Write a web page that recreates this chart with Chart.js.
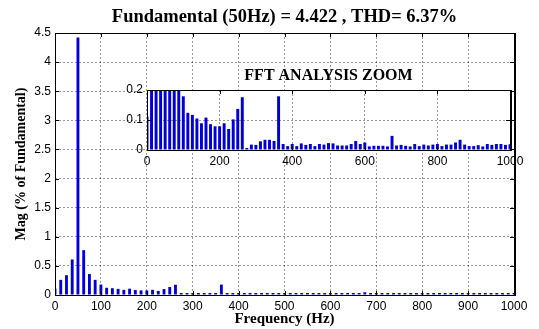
<!DOCTYPE html>
<html>
<head>
<meta charset="utf-8">
<script src="https://cdn.jsdelivr.net/npm/chart.js@4/dist/chart.umd.min.js"></script>
<style>
  body { margin: 0; background: #fff; }
  #wrap { position: relative; width: 539px; height: 329px; }
  #mainChart { position: absolute; left: 0; top: 0; }
  #zoomChart { position: absolute; left: 100px; top: 60px; }
</style>
</head>
<body>
<div id="wrap">
  <canvas id="mainChart" width="539" height="329"></canvas>
  <canvas id="zoomChart" width="439" height="115"></canvas>
</div>
<script>
// harmonic frequencies (Hz)
var freqs = [0, 12.5, 25, 37.5, 50, 62.5, 75, 87.5, 100, 112.5, 125, 137.5, 150, 162.5, 175, 187.5, 200,
  212.5, 225, 237.5, 250, 262.5, 275, 287.5, 300, 312.5, 325, 337.5, 350, 362.5, 375, 387.5, 400,
  412.5, 425, 437.5, 450, 462.5, 475, 487.5, 500, 512.5, 525, 537.5, 550, 562.5, 575, 587.5, 600,
  612.5, 625, 637.5, 650, 662.5, 675, 687.5, 700, 712.5, 725, 737.5, 750, 762.5, 775, 787.5, 800,
  812.5, 825, 837.5, 850, 862.5, 875, 887.5, 900, 912.5, 925, 937.5, 950, 962.5, 975, 987.5, 1000];
// magnitude (% of fundamental)
var mags = [0.112, 0.26, 0.34, 0.61, 4.422, 0.77, 0.36, 0.26, 0.179, 0.124, 0.117, 0.105, 0.089, 0.108, 0.086, 0.079, 0.079,
  0.089, 0.07, 0.102, 0.137, 0.176, 0.004, 0.018, 0.017, 0.029, 0.034, 0.034, 0.03, 0.179, 0.02, 0.013, 0.02,
  0.013, 0.022, 0.017, 0.02, 0.013, 0.02, 0.018, 0.023, 0.022, 0.015, 0.015, 0.015, 0.02, 0.03, 0.02, 0.025,
  0.012, 0.014, 0.014, 0.014, 0.012, 0.047, 0.015, 0.017, 0.014, 0.012, 0.02, 0.013, 0.018, 0.015, 0.018, 0.02,
  0.013, 0.018, 0.018, 0.025, 0.034, 0.018, 0.013, 0.013, 0.016, 0.012, 0.02, 0.017, 0.02, 0.02, 0.017, 0.019];
var yTicksMain = [0, 0.5, 1, 1.5, 2, 2.5, 3, 3.5, 4, 4.5];
var xTicksMain = [0, 100, 200, 300, 400, 500, 600, 700, 800, 900, 1000];
var yTicksZoom = [0, 0.1, 0.2];
var xTicksZoom = [0, 200, 400, 600, 800, 1000];

var barColor = 'rgb(0,0,215)';
var gridColor = 'rgba(0,0,0,0.4)';
var serif = "'Liberation Serif', 'Times New Roman', serif";
var sans = "'Liberation Sans', Arial, sans-serif";

// matlab-like box + inward ticks, white background for the zoom axes
var boxPlugin = {
  id: 'box',
  beforeDraw: function(chart, args, opts){
    if(!opts.fill) return;
    var a = chart.chartArea, c = chart.ctx;
    c.save();
    c.fillStyle = '#fff';
    c.fillRect(a.left, a.top, a.right - a.left, a.bottom - a.top);
    c.restore();
  },
  afterDraw: function(chart){
    var a = chart.chartArea, c = chart.ctx;
    var xs = chart.scales.x, ys = chart.scales.y;
    c.save();
    c.strokeStyle = '#000';
    c.lineWidth = 1;
    c.beginPath();
    xs.ticks.forEach(function(t){
      var px = Math.round(xs.getPixelForValue(t.value)) + 0.5;
      c.moveTo(px, a.bottom); c.lineTo(px, a.bottom - 4);
      c.moveTo(px, a.top); c.lineTo(px, a.top + 4);
    });
    ys.ticks.forEach(function(t){
      var py = Math.round(ys.getPixelForValue(t.value)) + 0.5;
      c.moveTo(a.left, py); c.lineTo(a.left + 4, py);
      c.moveTo(a.right, py); c.lineTo(a.right - 4, py);
    });
    c.stroke();
    c.strokeRect(Math.round(a.left) + 0.5, Math.round(a.top) + 0.5, Math.round(a.right - a.left), Math.round(a.bottom - a.top));
    c.lineWidth = 2;
    c.beginPath();
    c.moveTo(Math.round(a.right) + 1, a.top);
    c.lineTo(Math.round(a.right) + 1, a.bottom + 1);
    c.stroke();
    c.restore();
  }
};

function plainLabel(v){ return String(v); }

function makeScales(xMin, xMax, yMax, xTicks, yTicks, xTitle, yTitle, xH, yW){
  return {
    x: {
      type: 'linear', min: xMin, max: xMax, offset: false,
      afterBuildTicks: function(s){ s.ticks = xTicks.map(function(v){ return {value: v}; }); },
      grid: { color: gridColor, drawTicks: false, offset: false },
      border: { display: false, dash: [2, 2] },
      ticks: { color: '#000', font: { family: sans, size: 12 }, padding: 4, maxRotation: 0, autoSkip: false, callback: plainLabel },
      title: xTitle,
      afterFit: function(s){ s.height = xH; }
    },
    y: {
      min: 0, max: yMax,
      afterBuildTicks: function(s){ s.ticks = yTicks.map(function(v){ return {value: v}; }); },
      grid: { color: gridColor, drawTicks: false },
      border: { display: false, dash: [2, 2] },
      ticks: { color: '#000', font: { family: sans, size: 12 }, padding: 4, autoSkip: false, callback: plainLabel },
      title: yTitle,
      afterFit: function(s){ s.width = yW; }
    }
  };
}

var mainChart = new Chart(document.getElementById('mainChart').getContext('2d'), {
  type: 'bar',
  data: {
    labels: freqs,
    datasets: [{ data: mags, backgroundColor: barColor, categoryPercentage: 1, barPercentage: 0.5, minBarLength: 2 }]
  },
  options: {
    responsive: false,
    animation: false,
    layout: { padding: { left: 0, right: 25, top: 0, bottom: 0 } },
    plugins: {
      legend: { display: false },
      tooltip: { enabled: false },
      title: {
        display: true,
        fullSize: false,
        text: 'Fundamental (50Hz) = 4.422 , THD= 6.37%',
        color: '#000',
        font: { family: serif, size: 18.5, weight: 'bold' },
        padding: { top: 6, bottom: 4.8 }
      },
      box: { fill: false }
    },
    scales: makeScales(0, 1000, 4.5, xTicksMain, yTicksMain,
      { display: true, text: 'Frequency (Hz)', color: '#000', font: { family: serif, size: 15, weight: 'bold' }, padding: { top: 0, bottom: 1 } },
      { display: true, text: 'Mag (% of Fundamental)', color: '#000', font: { family: serif, size: 14, weight: 'bold' }, padding: { top: 13, bottom: 0 } },
      34, 55)
  },
  plugins: [boxPlugin]
});

var zoomChart = new Chart(document.getElementById('zoomChart').getContext('2d'), {
  type: 'bar',
  data: {
    labels: freqs,
    datasets: [{ data: mags, backgroundColor: barColor, categoryPercentage: 1, barPercentage: 0.65, minBarLength: 2 }]
  },
  options: {
    responsive: false,
    animation: false,
    layout: { padding: { left: 0, right: 29, top: 0, bottom: 0 } },
    plugins: {
      legend: { display: false },
      tooltip: { enabled: false },
      title: {
        display: true,
        fullSize: false,
        text: 'FFT ANALYSIS ZOOM',
        color: '#000',
        font: { family: serif, size: 16, weight: 'bold' },
        padding: { top: 6, bottom: 4.8 }
      },
      box: { fill: true }
    },
    scales: makeScales(0, 1000, 0.2, xTicksZoom, yTicksZoom,
      { display: false }, { display: false }, 25, 47)
  },
  plugins: [boxPlugin]
});
</script>
</body>
</html>
